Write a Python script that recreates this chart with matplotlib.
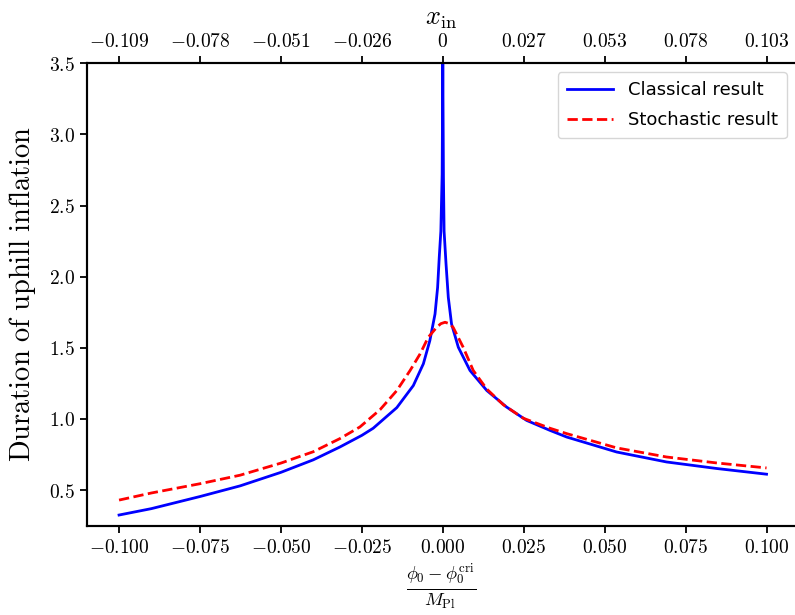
import numpy as np
import matplotlib
matplotlib.use("Agg")
import matplotlib.pyplot as plt
from matplotlib.ticker import FuncFormatter

# values
x_classical = [-0.1, -0.09, -0.075, -0.0626, -0.05, -0.04, -0.0318, -0.025, -0.0215,
               -0.0142, -0.0091, -0.006, -0.004, -0.0024, -0.0016, -0.0011, -0.0006,
               -0.0002, -0.00005, -0.00001,
               0.00001, 0.00005, 0.0002, 0.0004, 0.001, 0.0017, 0.0027, 0.0048,
               0.0084, 0.0136, 0.0197, 0.0259, 0.0331, 0.0383, 0.0537, 0.0691,
               0.0846, 0.1]
y_classical = [0.325, 0.37, 0.455, 0.53, 0.625, 0.713, 0.803, 0.885, 0.935,
               1.08, 1.235, 1.388, 1.551, 1.738, 1.925, 2.135, 2.32,
               2.72, 3.3, 3.8,
               3.8, 3.3, 2.7, 2.32, 2.09, 1.855, 1.668, 1.504,
               1.341, 1.20, 1.084, 0.99, 0.92, 0.873, 0.768, 0.698,
               0.652, 0.612]

x_stochastic = [-0.1, -0.09, -0.075, -0.0626, -0.05, -0.04, -0.0318, -0.0256, -0.0194,
                -0.0142, -0.0101, -0.007, -0.0045, -0.0019, -0.0006, 0.0007, 0.002,
                0.0032, 0.0063, 0.0094, 0.0136, 0.0187, 0.0249, 0.0331, 0.0383,
                0.0537, 0.0691, 0.0846, 0.1]
y_stochastic = [0.43, 0.48, 0.545, 0.605, 0.69, 0.77, 0.862, 0.944, 1.065,
                1.20, 1.341, 1.458, 1.574, 1.644, 1.67, 1.68, 1.67,
                1.644, 1.504, 1.341, 1.21, 1.10, 1.005, 0.935, 0.897,
                0.797, 0.733, 0.691, 0.656]

x_ticks = [-0.1, -0.075, -0.05, -0.025, 0.0, 0.025, 0.05, 0.075, 0.1]
x_in_labels = ["-0.109", "-0.078", "-0.051", "-0.026", "0", "0.027", "0.053", "0.078", "0.103"]
y_ticks = [0.5, 1.0, 1.5, 2.0, 2.5, 3.0, 3.5]

plt.rcParams["mathtext.fontset"] = "cm"
plt.rcParams["axes.linewidth"] = 1.5

fig = plt.figure(figsize=(7.95, 6.15), dpi=100)
ax = fig.add_axes([87 / 795, 1 - 525.7 / 615, (796 - 87) / 795, (525.7 - 63.3) / 615])

ax.plot(x_classical, y_classical, color="b", lw=2, label="Classical result")
ax.plot(x_stochastic, y_stochastic, "--", color="r", lw=2, label="Stochastic result")

ax.set_xlim(-0.1099, 0.1091)
ax.set_ylim(0.25, 3.5)
ax.set_xticks(x_ticks)
ax.set_yticks(y_ticks)
ax.xaxis.set_major_formatter(FuncFormatter(lambda v, p: "$%.3f$" % (0.0 if abs(v) < 1e-9 else v)))
ax.yaxis.set_major_formatter(FuncFormatter(lambda v, p: "$%.1f$" % v))
ax.tick_params(labelsize=14, length=5, width=1.3)
ax.spines["right"].set_visible(False)

ax.set_ylabel(r"$\mathrm{Duration\ of\ uphill\ inflation}$", fontsize=20.5, labelpad=8)
ax.set_xlabel(r"$\frac{\phi_0 - \phi_0^{\rm cri}}{M_{\rm Pl}}$", fontsize=19, labelpad=4)

leg = ax.legend(loc="upper right", fontsize=13, handlelength=2.6, labelspacing=0.65, borderpad=0.5)
leg.get_frame().set_edgecolor("#cccccc")

top = ax.twiny()
top.set_xlim(ax.get_xlim())
top.set_xticks(x_ticks)
top.set_xticklabels(["$%s$" % s for s in x_in_labels])
top.tick_params(labelsize=14, length=5, width=1.3)
top.spines["right"].set_visible(False)
top.set_xlabel(r"$x_{\rm in}$", fontsize=19, labelpad=6)

fig.savefig("out.png", dpi=100)
